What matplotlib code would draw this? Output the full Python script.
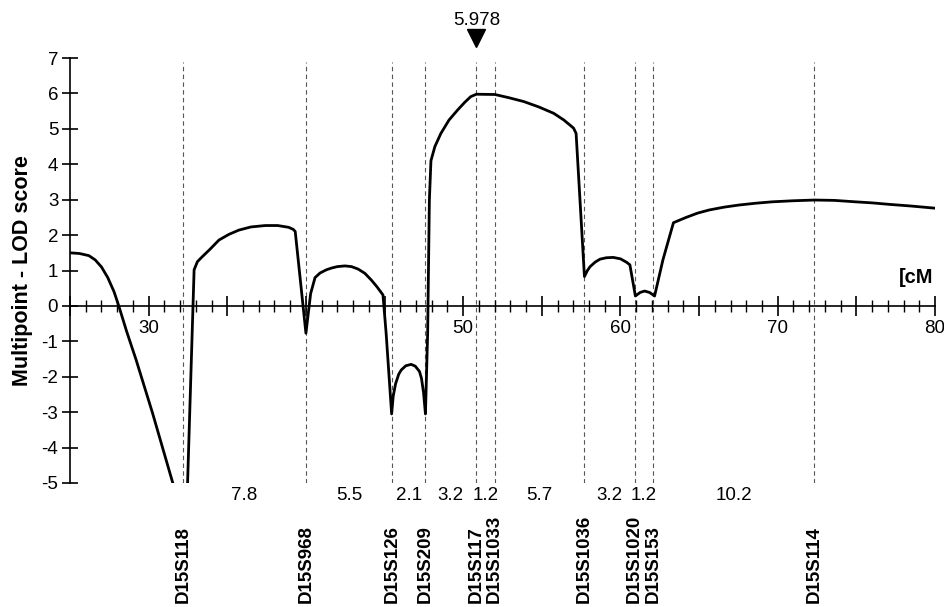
import matplotlib
matplotlib.use('Agg')
import matplotlib.pyplot as plt
import numpy as np
from matplotlib.ticker import MultipleLocator, FixedLocator

plt.rcParams['font.family'] = ['Liberation Sans', 'DejaVu Sans']
plt.rcParams['axes.unicode_minus'] = False

# LOD curve (cM, LOD)
pos_cm = [25.0, 25.6, 26.2, 26.6, 27.0, 27.4, 27.8, 28.1, 28.6, 29.2, 30.25, 31.58, 32.3,
          32.47, 32.89, 33.1, 33.41, 33.9, 34.47, 35.1, 35.73, 36.5, 37.42,
          38.2, 38.9, 39.2, 39.32, 40.0,
          40.3, 40.58, 40.9, 41.3, 41.63, 42.0, 42.48, 42.9, 43.32, 43.75,
          44.16, 44.5, 44.9, 45.1, 45.45,
          45.55, 45.7, 45.9, 46.06, 46.35, 46.69, 46.95, 47.22, 47.35, 47.48, 47.6,
          47.74, 47.85, 47.95, 48.2, 48.58, 49.1, 49.64, 50.1, 50.48, 50.84,
          52.02, 52.9, 53.86, 54.8, 55.75, 56.4, 57.02, 57.18, 57.71,
          57.9, 58.07, 58.4, 58.7, 59.1, 59.54, 60.0, 60.4, 60.6, 60.95,
          61.25, 61.54, 61.85, 62.17,
          62.7, 63.37, 63.8, 64.18, 64.9, 65.65, 66.6, 67.55, 68.6,
          69.66, 71.0, 72.35, 73.6, 74.92, 76.0, 77.03, 78.5, 80.0]
lod = [1.5, 1.48, 1.42, 1.3, 1.1, 0.8, 0.4, 0.0, -0.72, -1.52, -3.03, -5.07, -6.0,
       -5.07, 1.02, 1.25, 1.39, 1.6, 1.86, 2.02, 2.14, 2.23, 2.27,
       2.27, 2.22, 2.16, 2.10, -0.77,
       0.35, 0.8, 0.93, 1.02, 1.07, 1.11, 1.13, 1.11, 1.04, 0.92,
       0.73, 0.55, 0.31, -0.77, -3.05,
       -2.55, -2.2, -1.93, -1.81, -1.69, -1.65, -1.7, -1.85, -2.05, -2.45, -3.05,
       -0.77, 2.99, 4.1, 4.5, 4.87, 5.25, 5.53, 5.75, 5.91, 5.978,
       5.97, 5.88, 5.77, 5.62, 5.44, 5.25, 5.02, 4.87, 0.83,
       1.0, 1.11, 1.24, 1.32, 1.36, 1.37, 1.33, 1.23, 1.16, 0.28,
       0.38, 0.42, 0.38, 0.28,
       1.30, 2.35, 2.43, 2.50, 2.62, 2.71, 2.79, 2.85, 2.90,
       2.94, 2.97, 2.99, 2.98, 2.94, 2.91, 2.87, 2.82, 2.76]

markers = ['D15S118', 'D15S968', 'D15S126', 'D15S209', 'D15S117',
           'D15S1033', 'D15S1036', 'D15S1020', 'D15S153', 'D15S114']
first_marker = 32.2
intervals = [7.8, 5.5, 2.1, 3.2, 1.2, 5.7, 3.2, 1.2, 10.2]
marker_pos = np.concatenate([[first_marker], first_marker + np.cumsum(intervals)])

peak_pos = 50.84
peak_lod = 5.978

x_tick_labels = [30, 50, 60, 70, 80]

fig = plt.figure(figsize=(9.45, 6.07), dpi=100)
ax = fig.add_axes([0.0741, 0.2043, 0.9153, 0.7001])

for m in marker_pos:
    ax.plot([m, m], [-5, 6.9], color='#555555', lw=0.8,
            dashes=(4, 3), zorder=1)

ax.plot(pos_cm, lod, color='black', lw=2.0, zorder=3,
        solid_joinstyle='round')

ax.set_xlim(25, 80)
ax.set_ylim(-5, 7)

ax.spines['top'].set_visible(False)
ax.spines['right'].set_visible(False)
ax.spines['bottom'].set_position(('data', 0))
ax.spines['left'].set_linewidth(1.2)
ax.spines['bottom'].set_linewidth(1.2)

ax.yaxis.set_major_locator(MultipleLocator(1))
ax.tick_params(axis='y', direction='inout', length=11, width=1.2,
               labelsize=13.5, pad=3)

ax.xaxis.set_major_locator(FixedLocator(np.arange(25, 81, 5)))
ax.xaxis.set_minor_locator(MultipleLocator(1))
ax.set_xticklabels([str(int(v)) if int(v) in x_tick_labels else ''
                    for v in np.arange(25, 81, 5)])
ax.tick_params(axis='x', which='major', direction='inout', length=14,
               width=1.2, labelsize=13.5, pad=3)
ax.tick_params(axis='x', which='minor', direction='inout', length=8,
               width=1.0)

ax.set_ylabel('Multipoint - LOD score', fontsize=15.5, fontweight='bold',
              labelpad=6)

ax.text(79.9, 0.8, '[cM', ha='right', va='center', fontsize=14.5,
        fontweight='bold')

# peak annotation
ax.plot([peak_pos], [7.56], marker='v', color='black', markersize=13,
        clip_on=False)
ax.text(peak_pos, 8.07, f'{peak_lod:.3f}', ha='center', va='center',
        fontsize=13.5, clip_on=False)

# interval distances
mids = (marker_pos[:-1] + marker_pos[1:]) / 2
for mid, d in zip(mids, intervals):
    ax.text(mid, -5.35, f'{d:.1f}', ha='center', va='center',
            fontsize=13.5, clip_on=False)

# marker names
for m, name in zip(marker_pos, markers):
    ax.text(m, -8.4, name, rotation=90, ha='center', va='bottom',
            fontsize=13.5, fontweight='bold', clip_on=False)

fig.savefig('out.png', dpi=100)
